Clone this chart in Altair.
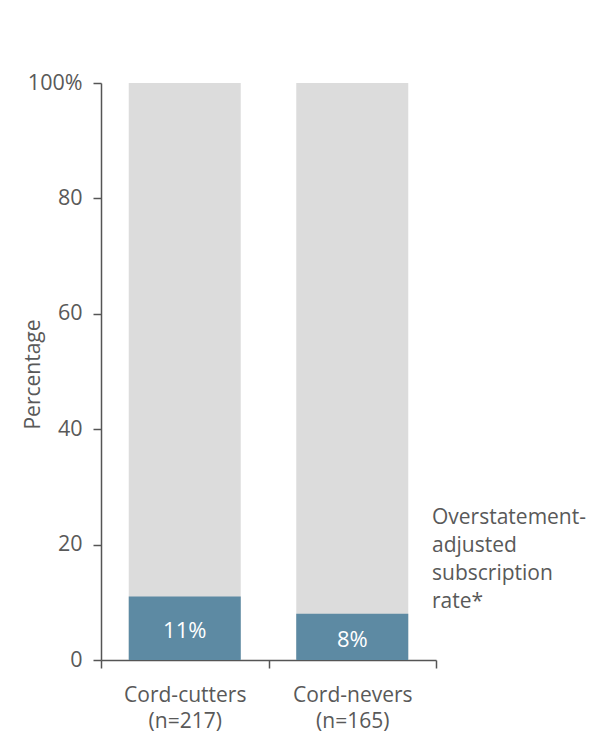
import altair as alt
import pandas as pd

categories = ["Cord-cutters|(n=217)", "Cord-nevers|(n=165)"]
rates = [11, 8]
totals = [100, 100]
rate_labels = ["11%", "8%"]
note_text = "Overstatement-\nadjusted\nsubscription\nrate*"

df = pd.DataFrame({"cat": categories, "rate": rates, "total": totals, "lab": rate_labels})
note_df = pd.DataFrame({"note": [note_text]})

FONT = "Open Sans"
GREY_TXT = "#595959"
AX = "#555555"

x = alt.X("cat:N", sort=categories, title=None,
          scale=alt.Scale(paddingInner=0, paddingOuter=0),
          axis=alt.Axis(labelAngle=0, tickBand="extent", labelExpr="split(datum.label, '|')",
                        labelFontSize=21, labelColor=GREY_TXT, labelFont=FONT,
                        labelLineHeight=26, labelPadding=16, tickSize=8,
                        domainColor=AX, tickColor=AX, domainWidth=1.5, tickWidth=1.5))

yscale = alt.Scale(domain=[0, 100], nice=False)
yaxis = alt.Axis(values=[0, 20, 40, 60, 80, 100],
                 labelExpr="datum.value == 100 ? '100%' : datum.label",
                 labelFontSize=21.5, labelColor=GREY_TXT, labelFont=FONT, labelPadding=11,
                 tickSize=8, domainColor=AX, tickColor=AX, domainWidth=1.5, tickWidth=1.5,
                 grid=False, title="Percentage", titleFontSize=21, titleFont=FONT,
                 titleColor=GREY_TXT, titleFontWeight="normal", titleX=-58, titleY=291)

base = alt.Chart(df)

grey = base.mark_bar(width=112, color="#dcdcdc").encode(
    x=x, y=alt.Y("total:Q", scale=yscale, axis=yaxis))
blue = base.mark_bar(width=112, color="#5d8aa3").encode(
    x=alt.X("cat:N", sort=categories), y=alt.Y("rate:Q"))
labels = base.transform_calculate(mid="datum.rate / 2").mark_text(
    color="white", fontSize=22, font=FONT, baseline="middle", dy=3).encode(
    x=alt.X("cat:N", sort=categories), y=alt.Y("mid:Q"), text="lab:N")

note = alt.Chart(note_df).mark_text(
    align="left", baseline="alphabetic", fontSize=21, font=FONT, color=GREY_TXT,
    lineBreak="\n", lineHeight=28).encode(
    x=alt.value(331), y=alt.value(441), text="note:N")

chart = alt.layer(grey, blue, labels, note).properties(
    width=335, height=577,
    background="white",
    autosize=alt.AutoSizeParams(type="none"),
    padding={"left": 101, "top": 83, "right": 175, "bottom": 75},
).configure_view(strokeWidth=0, stroke=None)

chart.save("out.html", embed_options={"renderer": "svg", "actions": False})
